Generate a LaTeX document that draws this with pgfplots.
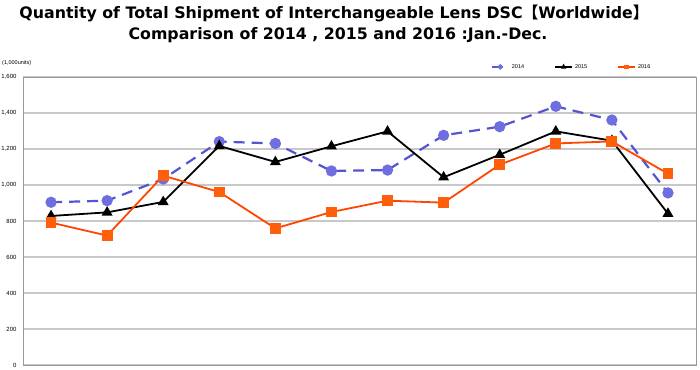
\documentclass[border=0pt]{standalone}
\usepackage{pgfplots}
\pgfplotsset{compat=1.18}
\usepackage{fontspec}
\setmainfont{DejaVu Sans}
\newfontfamily\lab{Liberation Sans}
\newfontfamily\cjk{Noto Sans CJK JP}
\definecolor{c14}{RGB}{85,85,210}
\definecolor{c14f}{RGB}{110,110,225}
\definecolor{c16}{RGB}{255,70,0}
\definecolor{c16f}{RGB}{255,95,10}
\definecolor{gridc}{RGB}{200,200,200}
\begin{document}
\begin{tikzpicture}[x=1pt,y=1pt]
\path[use as bounding box] (0,0) rectangle (700,369);
\node[anchor=base] at (334,350.5) {\fontsize{15.8}{18}\selectfont\bfseries Quantity of Total Shipment of Interchangeable Lens DSC{\cjk\bfseries 【}Worldwide{\cjk\bfseries 】}};
\node[anchor=base] at (338,329) {\fontsize{15.8}{18}\selectfont\bfseries Comparison of 2014 , 2015 and 2016 :Jan.-Dec.};
\node[anchor=west,inner sep=0pt] at (2,306) {\lab\fontsize{5.5}{6}\selectfont (1,000units)};
\begin{axis}[
  at={(23pt,4pt)}, anchor=south west,
  scale only axis, width=673pt, height=288pt,
  xmin=0.5, xmax=12.5, ymin=0, ymax=1600,
  xtick=\empty,
  ytick={0,200,...,1600},
  ymajorgrids,
  grid style={gridc, line width=1.2pt},
  axis line style={gray!80, line width=0.8pt},
  major tick length=0pt,
  /pgf/number format/.cd, 1000 sep={,}, assume math mode=true,
  /pgfplots/.cd,
  yticklabel style={font=\lab\fontsize{6}{7}\selectfont, anchor=east, xshift=-3pt},
  legend columns=3,
  legend style={at={(rel axis cs:0.815,1.035)}, anchor=center, draw=none, fill=white,
    font=\lab\fontsize{5.5}{6}\selectfont, inner ysep=4pt, inner xsep=22pt,
    /tikz/every even column/.append style={column sep=28pt}},
  legend image post style={mark size=1.4pt},
]
\addplot[c14, line width=2.2pt, dash pattern=on 11pt off 7pt, mark=*, mark size=4.5pt,
  mark options={solid, fill=c14f, draw=c14f}]
  coordinates {(1,904)(2,913)(3,1033)(4,1241)(5,1231)(6,1078)(7,1083)(8,1276)(9,1324)(10,1437)(11,1361)(12,956)};
\addlegendentry{2014}
\addplot[black, line width=1.8pt, mark=triangle*, mark size=4.5pt, mark options={solid}]
  coordinates {(1,828)(2,848)(3,906)(4,1217)(5,1128)(6,1215)(7,1298)(8,1043)(9,1168)(10,1298)(11,1246)(12,841)};
\addlegendentry{2015}
\addplot[c16, line width=1.8pt, mark=square*, mark size=4.5pt, mark options={solid, fill=c16f, draw=c16f}]
  coordinates {(1,791)(2,719)(3,1052)(4,961)(5,759)(6,850)(7,913)(8,902)(9,1113)(10,1231)(11,1242)(12,1063)};
\addlegendentry{2016}
\end{axis}
\end{tikzpicture}
\end{document}
